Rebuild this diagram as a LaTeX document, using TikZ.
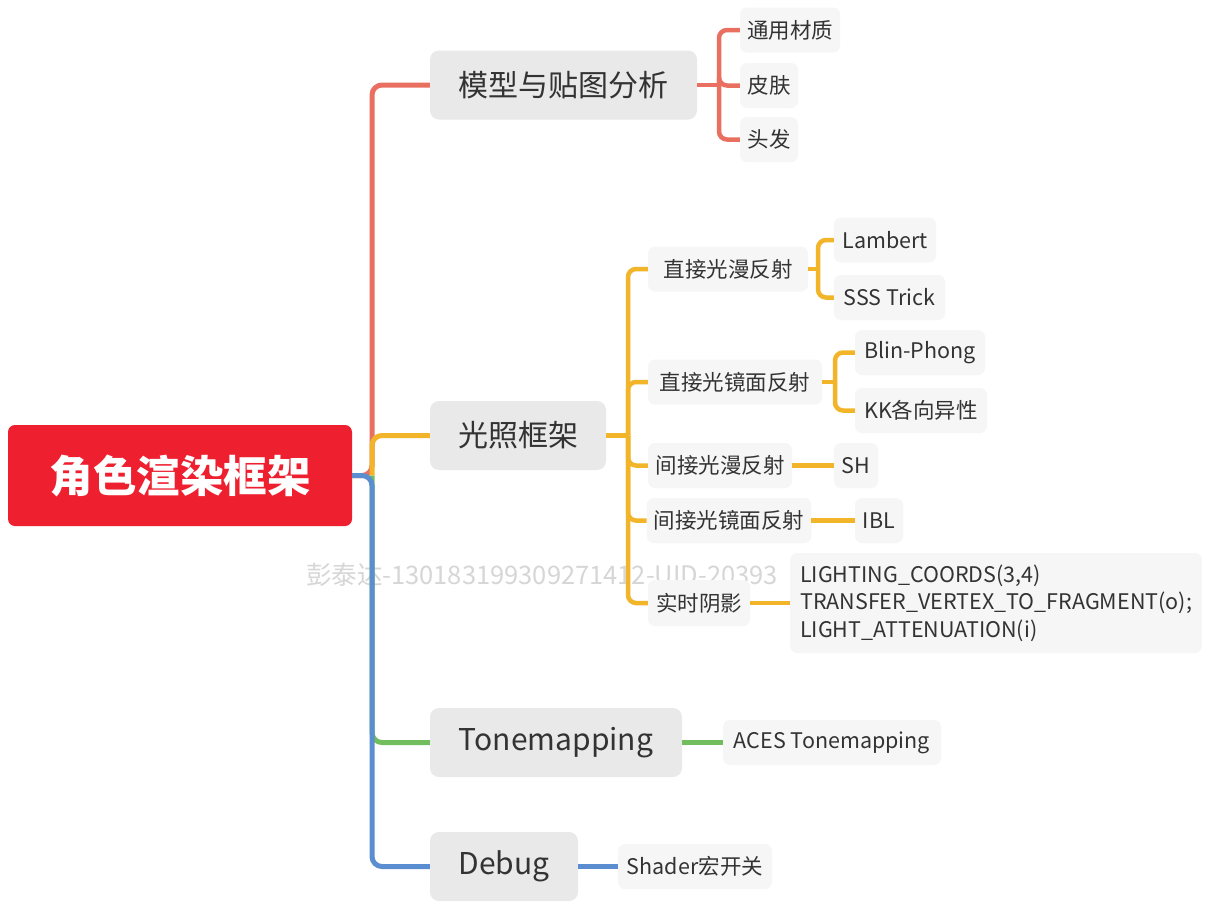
\documentclass[tikz,border=0pt]{standalone}
\usepackage{fontspec}
\setmainfont{Noto Sans CJK SC}
\definecolor{cred}{HTML}{E96F61}
\definecolor{cyel}{HTML}{F2B52A}
\definecolor{cgrn}{HTML}{72BE5E}
\definecolor{cblu}{HTML}{5B8ED0}
\definecolor{rootred}{HTML}{EE1F2F}
\definecolor{lvone}{HTML}{E9E9E9}
\definecolor{lvtwo}{HTML}{F6F6F6}
\definecolor{txt}{HTML}{333333}
\definecolor{wmark}{HTML}{D6D6D6}
\begin{document}
\begin{tikzpicture}[x=1pt,y=-1pt,
  rootbox/.style={fill=rootred, rounded corners=7pt, text=white, inner sep=0pt, font=\fontsize{43.5}{50}\selectfont\bfseries},
  mainbox/.style={fill=lvone, rounded corners=9pt, text=txt, inner xsep=8pt, inner ysep=0pt, minimum height=69pt, font=\fontsize{30}{36}\selectfont},
  subbox/.style={fill=lvtwo, rounded corners=7pt, text=txt, inner xsep=7pt, inner ysep=0pt, minimum height=45pt, font=\fontsize{21.5}{25}\selectfont},
  link/.style={line width=5pt, rounded corners=10pt},
  sublink/.style={line width=4.5pt, rounded corners=8pt}
]
\useasboundingbox (0,0) rectangle (1211,911);
\fill[white] (0,0) rectangle (1211,911);

% watermark
\node[text=wmark, font=\fontsize{25.5}{30}\selectfont, inner sep=0pt] (wm) at (542,575) {彭泰达-130183199309271412-UID-20393};

% root
\node[rootbox, minimum width=344pt, minimum height=101pt] (root) at (180,475.5) {角色渲染框架};

% level 1
\node[mainbox, minimum width=267pt] (m1) at (563.5,85) {模型与贴图分析};
\node[mainbox, minimum width=176pt] (m2) at (518,435.5) {光照框架};
\node[mainbox, minimum width=252pt] (m3) at (556,742.5) {Tonemapping};
\node[mainbox, minimum width=148pt] (m4) at (504,866.5) {Debug};

% red children
\node[subbox, minimum width=100pt] (c11) at (790,30) {通用材质};
\node[subbox, minimum width=58pt] (c12) at (769,85.5) {皮肤};
\node[subbox, minimum width=58pt] (c13) at (769,139.5) {头发};

% yellow children
\node[subbox, minimum width=160pt] (y1) at (728,269) {直接光漫反射};
\node[subbox, minimum width=174pt] (y2) at (735,382) {直接光镜面反射};
\node[subbox, minimum width=144pt] (y3) at (720,465.5) {间接光漫反射};
\node[subbox, minimum width=162pt] (y4) at (729,520.5) {间接光镜面反射};
\node[subbox, minimum width=102pt, minimum height=46pt] (y5) at (699,603) {实时阴影};

% level 3
\node[subbox, minimum width=102pt] (la) at (885,240) {Lambert};
\node[subbox, minimum width=111pt] (sss) at (889.5,297.5) {SSS Trick};
\node[subbox, minimum width=130pt] (bp) at (920,352.5) {Blin-Phong};
\node[subbox, minimum width=132pt] (kk) at (921,410.5) {KK各向异性};
\node[subbox, minimum width=44pt, inner xsep=4pt] (sh) at (856,465.5) {SH};
\node[subbox, minimum width=48pt, inner xsep=4pt] (ibl) at (879,520.5) {IBL};
\node[subbox, anchor=west, minimum height=100pt, inner xsep=10pt, align=left, font=\fontsize{21.5}{27.5}\selectfont] (code) at (790,603) {LIGHTING\_COORDS(3,4)\\TRANSFER\_VERTEX\_TO\_FRAGMENT(o);\\LIGHT\_ATTENUATION(i)};

% green / blue children
\node[subbox, minimum width=218pt] (aces) at (832,742.5) {ACES Tonemapping};
\node[subbox, minimum width=154pt] (sd) at (695,866.5) {Shader宏开关};

% coordinates
\coordinate (trunk) at (372,475.5);
\coordinate (b1) at (719,85);
\coordinate (b2) at (628,435.5);
\coordinate (b3) at (818,269);
\coordinate (b4) at (835,382);

% main connectors
\draw[link, cred] (root.east) -- (trunk) |- (m1.west);
\draw[link, cyel] (trunk) |- (m2.west);
\draw[link, cgrn] (trunk) |- (m3.west);
\draw[link, cblu] (root.east) -- (trunk) |- (m4.west);

% red bracket
\draw[sublink, cred] (m1.east) -- (b1);
\draw[sublink, cred] (b1) |- (c11.west);
\draw[sublink, cred] (b1) |- (c12.west);
\draw[sublink, cred] (b1) |- (c13.west);

% yellow bracket
\draw[sublink, cyel] (m2.east) -- (b2);
\draw[sublink, cyel] (b2) |- (y1.west);
\draw[sublink, cyel] (b2) |- (y2.west);
\draw[sublink, cyel] (b2) |- (y3.west);
\draw[sublink, cyel] (b2) |- (y4.west);
\draw[sublink, cyel] (b2) |- (y5.west);
\draw[sublink, cyel] (y1.east) -- (b3);
\draw[sublink, cyel] (b3) |- (la.west);
\draw[sublink, cyel] (b3) |- (sss.west);
\draw[sublink, cyel] (y2.east) -- (b4);
\draw[sublink, cyel] (b4) |- (bp.west);
\draw[sublink, cyel] (b4) |- (kk.west);
\draw[sublink, cyel] (y3.east) -- (sh.west);
\draw[sublink, cyel] (y4.east) -- (ibl.west);
\draw[sublink, cyel] (y5.east) -- (code.west);

% green / blue
\draw[sublink, cgrn] (m3.east) -- (aces.west);
\draw[sublink, cblu] (m4.east) -- (sd.west);
\end{tikzpicture}
\end{document}
